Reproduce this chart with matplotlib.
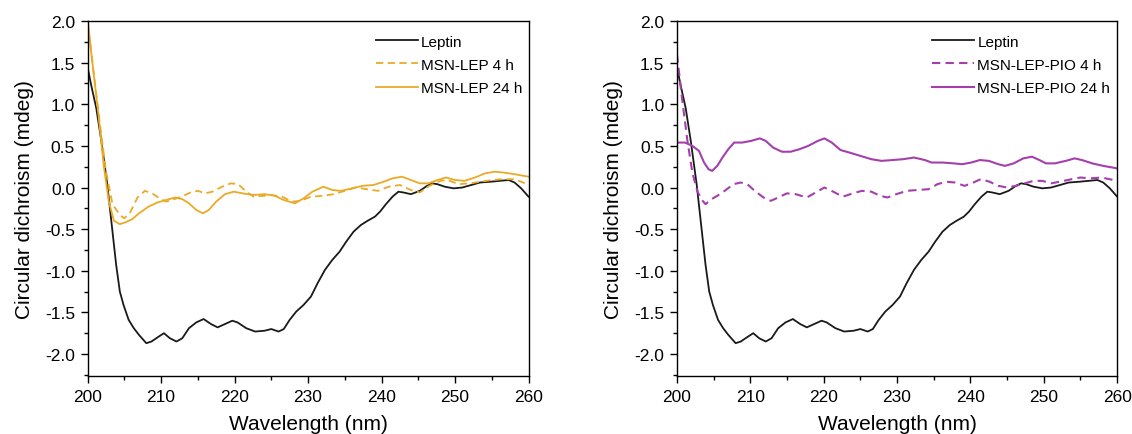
import matplotlib.pyplot as plt
from matplotlib.ticker import MultipleLocator

plt.rcParams['font.family'] = ['Liberation Sans', 'DejaVu Sans']
plt.rcParams['axes.unicode_minus'] = False

# Leptin (same curve in both panels)
lep_x = [200, 200.5, 201.2, 201.9, 202.7, 203.4, 203.9, 204.4, 204.9, 205.6, 206.3, 207.0,
         208.0, 208.7, 209.7, 210.4, 211.2, 212.1, 212.9, 213.8, 214.8, 215.8, 216.8, 217.7,
         218.7, 219.7, 220.4, 221.6, 222.8, 224.1, 225.0, 226.0, 226.7, 227.5, 228.4, 229.4,
         230.4, 231.3, 232.3, 233.3, 234.3, 235.2, 236.2, 237.2, 238.1, 239.1, 239.8, 240.6,
         241.5, 242.3, 243.0, 244.0, 245.2, 246.2, 246.9, 247.6, 248.6, 249.8, 251.0, 252.2,
         253.4, 254.9, 256.1, 257.3, 258.1, 259.0, 260]
lep_y = [1.45, 1.23, 0.95, 0.55, 0.03, -0.53, -0.93, -1.25, -1.41, -1.59, -1.69, -1.77,
         -1.87, -1.85, -1.79, -1.75, -1.81, -1.85, -1.81, -1.69, -1.62, -1.58, -1.64, -1.68,
         -1.64, -1.60, -1.62, -1.69, -1.73, -1.72, -1.70, -1.73, -1.70, -1.59, -1.49, -1.41,
         -1.31, -1.15, -0.99, -0.87, -0.77, -0.65, -0.53, -0.45, -0.40, -0.35, -0.29, -0.20,
         -0.11, -0.05, -0.06, -0.08, -0.04, 0.02, 0.05, 0.04, 0.01, -0.01, 0.00, 0.03,
         0.06, 0.07, 0.08, 0.09, 0.06, -0.01, -0.11]

# MSN-LEP 4 h
lep4_x = [200, 201.5, 202.5, 203.4, 204.4, 205.0, 205.8, 206.8, 207.8, 208.8, 209.8, 210.7,
          211.8, 212.8, 214.0, 215.0, 216.0, 217.0, 218.3, 219.5, 220.5, 221.6, 222.6, 224.0,
          225.0, 226.5, 227.8, 229.0, 230.4, 232.0, 233.5, 235.0, 236.5, 238.0, 239.5, 241.0,
          242.5, 244.0, 245.2, 246.5, 248.0, 249.0, 250.5, 252.0, 253.5, 255.0, 256.5, 258.0,
          259.0, 260]
lep4_y = [2.0, 0.9, 0.2, -0.2, -0.33, -0.37, -0.30, -0.12, -0.04, -0.07, -0.13, -0.17,
          -0.14, -0.11, -0.06, -0.04, -0.07, -0.05, 0.01, 0.05, 0.04, -0.05, -0.11, -0.10,
          -0.09, -0.11, -0.17, -0.16, -0.11, -0.10, -0.08, -0.04, 0.00, -0.02, -0.04, 0.01,
          0.03, -0.03, -0.06, 0.02, 0.08, 0.09, 0.04, 0.05, 0.07, 0.09, 0.10, 0.10,
          0.07, 0.03]

# MSN-LEP 24 h
lep24_x = [200, 200.7, 201.5, 202.2, 202.9, 203.6, 204.4, 205.1, 206.1, 207.0, 208.3, 209.5,
           210.7, 211.9, 212.9, 213.8, 214.8, 215.7, 216.5, 217.5, 218.7, 219.9, 221.1, 222.6,
           224.1, 225.5, 226.7, 228.2, 229.4, 230.6, 232.1, 233.3, 234.5, 236.0, 237.4, 238.9,
           240.3, 241.5, 242.8, 244.0, 245.2, 246.4, 247.6, 248.8, 250.0, 251.3, 252.7, 254.1,
           255.4, 256.6, 258.1, 260]
lep24_y = [2.03, 1.47, 0.87, 0.27, -0.17, -0.40, -0.44, -0.42, -0.38, -0.31, -0.23, -0.18,
           -0.15, -0.12, -0.14, -0.19, -0.27, -0.31, -0.27, -0.17, -0.08, -0.05, -0.07, -0.09,
           -0.08, -0.10, -0.15, -0.19, -0.13, -0.05, 0.01, -0.03, -0.04, -0.01, 0.02, 0.03,
           0.07, 0.11, 0.13, 0.09, 0.05, 0.05, 0.09, 0.12, 0.09, 0.08, 0.12, 0.17,
           0.19, 0.18, 0.16, 0.13]

# MSN-LEP-PIO 4 h
pio4_x = [200, 200.6, 201.4, 202.1, 202.8, 203.5, 203.9, 204.7, 205.5, 206.5, 207.7, 208.7,
          209.6, 210.6, 211.8, 212.8, 213.8, 215.0, 216.2, 217.7, 218.9, 220.1, 221.3, 222.6,
          224.0, 225.2, 226.5, 227.7, 228.7, 229.9, 231.3, 232.8, 234.3, 235.5, 236.7, 237.9,
          239.2, 240.4, 241.4, 242.6, 243.8, 245.0, 246.2, 247.4, 248.6, 249.8, 251.0, 252.2,
          253.8, 255.0, 256.4, 257.9, 260]
pio4_y = [1.60, 1.14, 0.58, 0.18, -0.05, -0.16, -0.20, -0.14, -0.10, -0.04, 0.04, 0.06,
          0.04, -0.04, -0.12, -0.16, -0.12, -0.07, -0.08, -0.12, -0.06, 0.00, -0.05, -0.11,
          -0.07, -0.04, -0.05, -0.10, -0.12, -0.08, -0.04, -0.03, -0.02, 0.04, 0.07, 0.06,
          0.02, 0.06, 0.10, 0.07, 0.02, 0.00, 0.02, 0.05, 0.08, 0.08, 0.05, 0.07,
          0.10, 0.12, 0.11, 0.12, 0.08]

# MSN-LEP-PIO 24 h
pio24_x = [200, 201.1, 202.1, 203.0, 203.7, 204.3, 204.8, 205.5, 206.2, 207.0, 207.8, 208.9,
           210.1, 211.3, 212.1, 213.1, 214.3, 215.5, 216.7, 217.9, 219.2, 220.1, 221.1, 222.3,
           223.5, 225.0, 226.5, 227.9, 229.4, 230.8, 232.3, 233.8, 234.7, 236.2, 237.7, 238.9,
           240.1, 241.3, 242.5, 243.8, 244.7, 245.9, 247.2, 248.4, 249.4, 250.3, 251.5, 253.0,
           254.2, 255.2, 256.6, 258.1, 260]
pio24_y = [0.54, 0.54, 0.50, 0.44, 0.30, 0.22, 0.20, 0.26, 0.36, 0.46, 0.54, 0.54,
           0.56, 0.59, 0.56, 0.48, 0.43, 0.43, 0.46, 0.50, 0.56, 0.59, 0.54, 0.45,
           0.42, 0.38, 0.34, 0.32, 0.33, 0.34, 0.36, 0.33, 0.30, 0.30, 0.29, 0.28,
           0.30, 0.33, 0.32, 0.28, 0.26, 0.29, 0.35, 0.37, 0.33, 0.29, 0.29, 0.32,
           0.35, 0.33, 0.29, 0.26, 0.23]

orange = '#EBAA26'
purple = '#A43FAD'

fig = plt.figure(figsize=(11.32, 4.35), dpi=100)
ax1 = fig.add_axes([0.0773, 0.1322, 0.3896, 0.8172])
ax2 = fig.add_axes([0.598, 0.1322, 0.3889, 0.8172])

ax1.plot(lep_x, lep_y, color='#1a1a1a', lw=1.3, label='Leptin')
ax1.plot(lep4_x, lep4_y, color=orange, lw=1.3, ls=(0, (4, 2.5)), label='MSN-LEP 4 h')
ax1.plot(lep24_x, lep24_y, color=orange, lw=1.3, label='MSN-LEP 24 h')

ax2.plot(lep_x, lep_y, color='#1a1a1a', lw=1.3, label='Leptin')
ax2.plot(pio4_x, pio4_y, color=purple, lw=1.5, ls=(0, (4, 2.5)), label='MSN-LEP-PIO 4 h')
ax2.plot(pio24_x, pio24_y, color=purple, lw=1.5, label='MSN-LEP-PIO 24 h')

for ax, lx in [(ax1, 0.654), (ax2, 0.58)]:
    ax.set_xlim(200, 260)
    ax.set_ylim(-2.27, 2.0)
    ax.xaxis.set_major_locator(MultipleLocator(10))
    ax.xaxis.set_minor_locator(MultipleLocator(5))
    ax.yaxis.set_major_locator(MultipleLocator(0.5))
    ax.yaxis.set_minor_locator(MultipleLocator(0.25))
    ax.yaxis.set_major_formatter(plt.FormatStrFormatter('%.1f'))
    ax.tick_params(which='major', direction='out', length=5, width=1, labelsize=12.5, pad=4)
    ax.tick_params(which='minor', direction='out', length=3, width=1)
    for s in ax.spines.values():
        s.set_linewidth(1.0)
    ax.set_xlabel('Wavelength (nm)', fontsize=15, labelpad=7)
    ax.set_ylabel('Circular dichroism (mdeg)', fontsize=15, labelpad=8)
    ax.legend(loc='upper left', bbox_to_anchor=(lx, 0.962), frameon=False,
              fontsize=11, handlelength=2.75, handletextpad=0.2,
              labelspacing=0.6, borderpad=0, borderaxespad=0)

fig.savefig('out.png', dpi=100)
